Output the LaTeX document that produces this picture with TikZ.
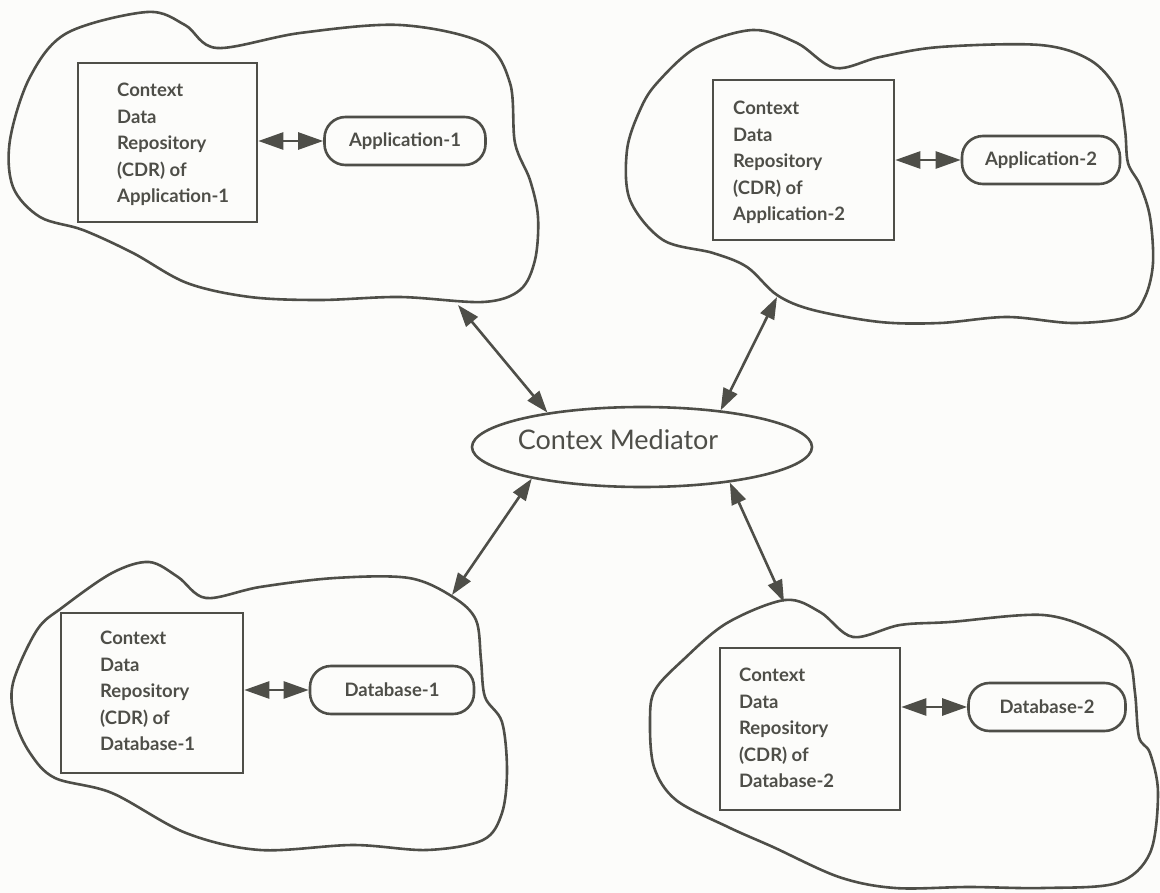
\documentclass[tikz,border=0pt]{standalone}
\usepackage{fontspec}
\setmainfont{Lato}
\usetikzlibrary{arrows.meta,shapes.geometric}
\definecolor{ink}{HTML}{4E4E48}
\definecolor{paper}{HTML}{FCFCFA}
\begin{document}
\begin{tikzpicture}[x=1pt,y=-1pt,
  cloudline/.style={draw=ink, line width=2.6pt},
  cdrbox/.style={draw=ink, line width=2.6pt, rectangle, inner sep=0pt},
  cdrtext/.style={align=left, inner sep=0pt, anchor=north west, text=ink, font=\fontsize{18.5}{26.5}\selectfont\bfseries},
  endnode/.style={draw=ink, line width=2.6pt, rectangle, rounded corners=21pt, text=ink, font=\fontsize{18.5}{22}\selectfont\bfseries, minimum height=48pt, inner sep=0pt},
  medstyle/.style={draw=ink, line width=2.6pt, ellipse, minimum width=340pt, minimum height=80pt, inner sep=0pt},
  link/.style={draw=ink, line width=2.6pt, {Triangle[length=22pt,width=15pt]}-{Triangle[length=22pt,width=15pt]}},
  tinklink/.style={draw=ink, line width=2.6pt, {Triangle[length=25pt,width=17pt]}-{Triangle[length=25pt,width=17pt]}}
]
\fill[paper] (0,0) rectangle (1160,893);
\useasboundingbox (0,0) rectangle (1160,893);

% clouds
\draw[cloudline] plot[smooth cycle, tension=0.55] coordinates {(10,140) (30,77) (67,33) (147,12) (185,25) (217,48) (300,33) (400,25) (483,43) (510,83) (515,143) (530,180) (538,217) (535,260) (520,290) (483,302) (400,297) (320,300) (250,297) (187,283) (133,253) (83,230) (40,217) (13,187)};
\draw[cloudline] plot[smooth cycle, tension=0.55] coordinates {(627,150) (640,110) (657,83) (697,47) (753,30) (797,43) (835,68) (880,57) (940,47) (1040,45) (1090,60) (1117,90) (1125,130) (1128,163) (1140,185) (1150,217) (1153,263) (1145,297) (1127,317) (1073,323) (1007,317) (940,323) (880,322) (813,310) (777,295) (747,267) (713,253) (663,240) (630,200)};
\draw[cloudline] plot[smooth cycle, tension=0.55] coordinates {(13,683) (37,630) (63,607) (112,573) (149,562) (178,577) (206,598) (260,587) (335,578) (409,578) (453,597) (476,620) (481,660) (485,697) (502,722) (507,770) (502,813) (483,840) (427,850) (353,845) (260,850) (186,833) (112,793) (55,778) (30,753) (15,720)};
\draw[cloudline] plot[smooth cycle, tension=0.55] coordinates {(650,720) (655,690) (683,660) (727,623) (785,600) (820,612) (853,637) (900,625) (950,622) (1043,615) (1099,633) (1128,657) (1135,693) (1139,737) (1150,753) (1158,793) (1150,853) (1117,883) (1043,888) (969,887) (895,888) (839,877) (773,847) (728,827) (676,800) (654,767)};

% CDR boxes
\node[cdrbox, minimum width=179pt, minimum height=159pt] (b1) at (167.5,142.5) {};
\node[cdrtext] (t1) at (117,83) {Context\\Data\\Repository\\(CDR) of\\Application-1};
\node[cdrbox, minimum width=181pt, minimum height=160pt] (b2) at (803.5,160) {};
\node[cdrtext] (t2) at (733,101) {Context\\Data\\Repository\\(CDR) of\\Application-2};
\node[cdrbox, minimum width=182pt, minimum height=160pt] (b3) at (152,693) {};
\node[cdrtext] (t3) at (100,631) {Context\\Data\\Repository\\(CDR) of\\Database-1};
\node[cdrbox, minimum width=180pt, minimum height=162pt] (b4) at (810,729) {};
\node[cdrtext] (t4) at (739,668) {Context\\Data\\Repository\\(CDR) of\\Database-2};

% end nodes
\node[endnode, minimum width=161pt] (a1) at (405,141) {Application-1};
\node[endnode, minimum width=158pt] (a2) at (1041,160) {Application-2};
\node[endnode, minimum width=164pt] (d1) at (392,690) {Database-1};
\node[endnode, minimum width=157pt] (d2) at (1047,707) {Database-2};

\draw[tinklink] (b1.east |- a1.west) -- (a1.west);
\draw[tinklink] (b2.east |- a2.west) -- (a2.west);
\draw[tinklink] (b3.east |- d1.west) -- (d1.west);
\draw[tinklink] (b4.east |- d2.west) -- (d2.west);

% mediator
\node[medstyle] (med) at (642,447) {};
\node[text=ink, font=\fontsize{27}{30}\selectfont, inner sep=0pt] (medtxt) at (618,440) {Contex Mediator};

\coordinate (c1) at (458,305);
\coordinate (c2) at (777,297);
\coordinate (c3) at (452,595);
\coordinate (c4) at (784,602);
\draw[link] (c1) -- (med.160);
\draw[link] (c2) -- (med.25);
\draw[link] (c3) -- (med.196);
\draw[link] (c4) -- (med.338);
\end{tikzpicture}
\end{document}
